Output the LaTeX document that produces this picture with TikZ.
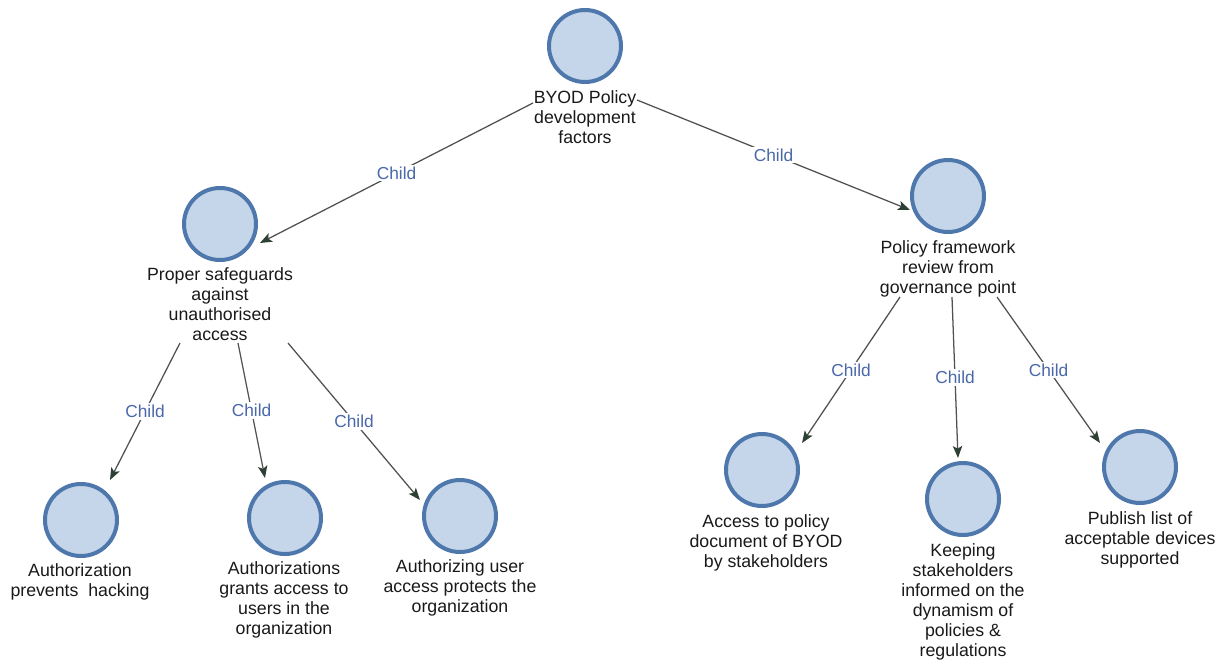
\documentclass[tikz,border=0pt]{standalone}
\usepackage{fontspec}
\setmainfont{Liberation Sans}
\usetikzlibrary{arrows.meta}
\definecolor{ringc}{RGB}{78,120,172}
\definecolor{fillc}{RGB}{197,213,234}
\definecolor{linec}{RGB}{80,82,80}
\definecolor{tipc}{RGB}{46,64,52}
\definecolor{childc}{RGB}{74,104,170}
\definecolor{txtc}{RGB}{25,25,25}
\tikzset{
  blob/.style={circle, draw=ringc, fill=fillc, line width=3pt, minimum size=54pt, inner sep=0pt},
  caption/.style={anchor=north, align=center, inner sep=0pt, text=txtc, font=\fontsize{13.3}{15}\selectfont},
  link/.style={draw=linec, line width=0.95pt, -{Stealth[length=9pt,width=7pt,inset=2pt,color=tipc]}},
  lbl/.style={midway, fill=white, inner sep=1.5pt, text=childc, font=\fontsize{13}{15}\selectfont}
}
\begin{document}
\begin{tikzpicture}[x=0.75pt,y=-0.75pt]
\useasboundingbox (0,0) rectangle (1221,660);
% circles
\node[blob] (rootc) at (585,46) {};
\node[blob] (Lc) at (220,224) {};
\node[blob] (Rc) at (948,196) {};
\node[blob] (LLa) at (81,520) {};
\node[blob] (LLb) at (285,518) {};
\node[blob] (LLc) at (460,516) {};
\node[blob] (RRa) at (762,470) {};
\node[blob] (RRb) at (963,499) {};
\node[blob] (RRc) at (1140,467) {};
% captions
\node[caption] (rootT) at (585,90) {BYOD Policy\\development\\factors};
\node[caption] (LT) at (220,267) {Proper safeguards\\against\\unauthorised\\access};
\node[caption] (RT) at (948,240) {Policy framework\\review from\\governance point};
\node[caption] (LLaT) at (80,563) {Authorization\\prevents\ \ hacking};
\node[caption] (LLbT) at (284,561) {Authorizations\\grants access to\\users in the\\organization};
\node[caption] (LLcT) at (460,559) {Authorizing user\\access protects the\\organization};
\node[caption] (RRaT) at (766,514) {Access to policy\\document of BYOD\\by stakeholders};
\node[caption] (RRbT) at (963,543) {Keeping\\stakeholders\\informed on the\\dynamism of\\policies \&\\regulations};
\node[caption] (RRcT) at (1140,511) {Publish list of\\acceptable devices\\supported};
% connectors
\draw[link] ([shift={(-52,57)}]rootc.center) -- node[lbl]{Child} ([shift={(40,19)}]Lc.center);
\draw[link] ([shift={(52,54)}]rootc.center) -- node[lbl]{Child} ([shift={(-38,14)}]Rc.center);
\draw[link] ([shift={(-40,119)}]Lc.center) -- node[lbl]{Child} ([shift={(29,-40)}]LLa.center);
\draw[link] ([shift={(18,119)}]Lc.center) -- node[lbl]{Child} ([shift={(-20,-40)}]LLb.center);
\draw[link] ([shift={(68,119)}]Lc.center) -- node[lbl]{Child} ([shift={(-40,-16)}]LLc.center);
\draw[link] ([shift={(-48,101)}]Rc.center) -- node[lbl]{Child} ([shift={(40,-27)}]RRa.center);
\draw[link] ([shift={(4,101)}]Rc.center) -- node[lbl]{Child} ([shift={(-5,-41)}]RRb.center);
\draw[link] ([shift={(49,101)}]Rc.center) -- node[lbl]{Child} ([shift={(-40,-24)}]RRc.center);
\end{tikzpicture}
\end{document}
